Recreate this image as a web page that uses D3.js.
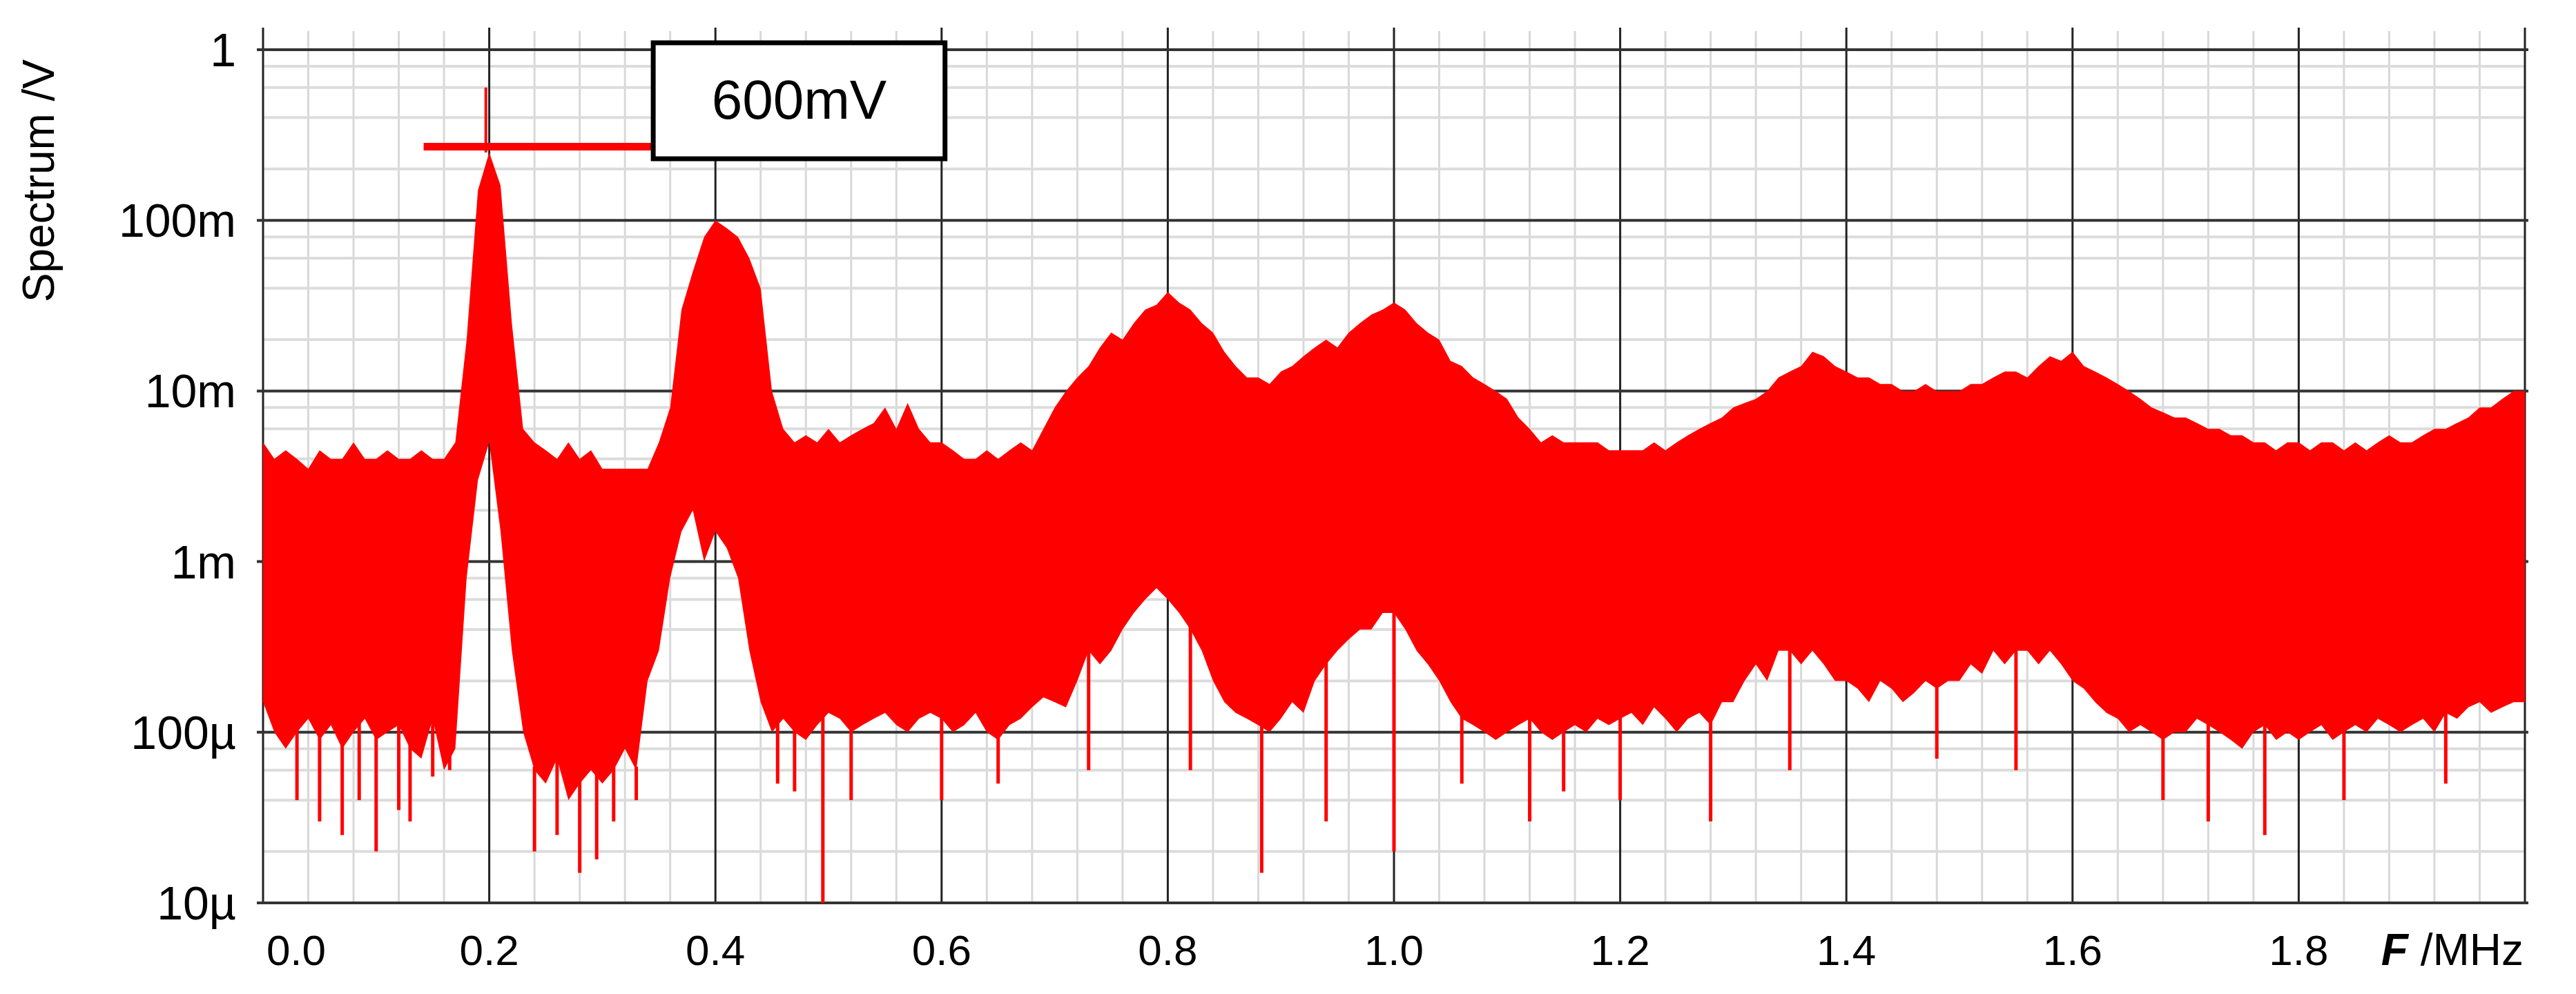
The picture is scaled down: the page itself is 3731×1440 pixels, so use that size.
<!DOCTYPE html>
<html><head><meta charset="utf-8">
<script src="https://cdn.jsdelivr.net/npm/d3@7"></script>
<style>body{margin:0;background:#fff}text{font-family:"Liberation Sans",Arial,sans-serif}</style>
</head><body><svg id="chart" width="3731" height="1440"></svg>
<script>
// upper edge of the noise band, mV, 0.00..2.00 MHz step 0.01
var upperMV = [5,4,4.5,4,3.5,4.5,4,4,5,4,
  4,4.5,4,4,4.5,4,4,5,20,150,
  250,160,25,6,5,4.5,4,5,4,4.5,
  3.5,3.5,3.5,3.5,3.5,5,8,30,50,80,
  100,90,80,60,40,10,6,5,5.5,5,
  6,5,5.5,6,6.5,8,6,8.5,6,5,
  5,4.5,4,4,4.5,4,4.5,5,4.5,6,
  8,10,12,14,18,22,20,25,30,32,
  38,33,30,25,22,17,14,12,12,11,
  13,14,16,18,20,18,22,25,28,30,
  33,30,25,22,20,15,14,12,11,10,
  9,7,6,5,5.5,5,5,5,5,4.5,
  4.5,4.5,4.5,5,4.5,5,5.5,6,6.5,7,
  8,8.5,9,10,12,13,14,17,16,14,
  13,12,12,11,11,10,10,11,10,10,
  10,11,11,12,13,13,12,14,16,15,
  17,14,13,12,11,10,9,8,7.5,7,
  7,6.5,6,6,5.5,5.5,5,5,4.5,5,
  5,4.5,5,5,4.5,5,4.5,5,5.5,5,
  5,5.5,6,6,6.5,7,8,8,9,10,10];
// lower edge of the dense band, µV
var lowerUV = [150,100,80,100,120,90,110,80,100,120,
  90,100,110,80,70,120,60,80,800,3000,
  5000,1500,300,100,60,50,70,40,50,60,
  50,60,80,60,200,300,800,1500,2000,1000,
  1500,1200,800,300,150,100,120,100,90,110,
  130,120,100,110,120,130,110,100,120,130,
  120,100,110,130,100,90,110,120,140,160,
  150,140,200,300,250,300,400,500,600,700,
  600,500,400,300,200,150,130,120,110,100,
  120,150,130,200,250,300,350,400,400,500,
  500,400,300,250,200,150,120,110,100,90,
  100,110,120,100,90,100,110,100,120,110,
  120,130,110,140,120,100,120,130,110,150,
  150,200,250,200,300,300,250,300,250,200,
  200,180,150,200,180,150,170,200,180,200,
  200,250,220,300,250,300,300,250,300,250,
  200,180,150,130,120,100,110,100,90,100,
  100,120,110,100,90,80,100,110,90,100,
  90,100,110,90,100,110,100,120,110,100,
  110,120,100,130,120,140,150,130,140,150,150];
// single deep dips [MHz, µV]
var dips = [[0.03,40],[0.05,30],[0.07,25],[0.085,40],[0.10,20],[0.12,35],[0.13,30],[0.15,55],[0.165,60],
  [0.24,20],[0.26,25],[0.28,15],[0.295,18],[0.31,30],[0.33,40],[0.455,50],[0.47,45],[0.495,10],
  [0.52,40],[0.60,40],[0.65,50],[0.73,60],[0.82,60],[0.883,15],[0.94,30],[1.0,20],[1.06,50],
  [1.12,30],[1.15,45],[1.2,40],[1.28,30],[1.35,60],[1.48,70],[1.55,60],[1.68,40],[1.72,30],
  [1.77,25],[1.84,40],[1.93,50]];
var peakSpike = [0.197, 0.6];
var yTicks = [1, 0.1, 0.01, 0.001, 1e-4, 1e-5];
var yLabels = ["1", "100m", "10m", "1m", "100µ", "10µ"];
var xTicks = [0, 0.2, 0.4, 0.6, 0.8, 1.0, 1.2, 1.4, 1.6, 1.8];

var svg = d3.select("#chart");
var x = d3.scaleLinear().domain([0, 2]).range([381, 3657]);
var y = d3.scaleLog().domain([1e-5, 1]).range([1308, 72]);

// grid
var g = svg.append("g");
var minorX = d3.range(0, 2.001, 0.04).filter(function(f){ return Math.abs(f/0.2 - Math.round(f/0.2)) > 0.01; });
g.selectAll(".vminor").data(minorX).enter().append("line")
  .attr("x1", x).attr("x2", x).attr("y1", 45).attr("y2", 1308)
  .attr("stroke", "#d8d8d8").attr("stroke-width", 3);
var minorY = [];
[1e-5,1e-4,1e-3,1e-2,0.1].forEach(function(d){ [2,4,6,8].forEach(function(m){ minorY.push(d*m); }); });
g.selectAll(".hminor").data(minorY).enter().append("line")
  .attr("x1", 381).attr("x2", 3657).attr("y1", y).attr("y2", y)
  .attr("stroke", "#dcdcdc").attr("stroke-width", 4);
g.selectAll(".vmajor").data(xTicks.concat([2])).enter().append("line")
  .attr("x1", x).attr("x2", x).attr("y1", 40).attr("y2", 1308)
  .attr("stroke", "#222").attr("stroke-width", 3);
g.selectAll(".hmajor").data(yTicks).enter().append("line")
  .attr("x1", 372).attr("x2", 3662).attr("y1", y).attr("y2", y)
  .attr("stroke", "#333").attr("stroke-width", 4);

// spectrum band
var freqs = d3.range(upperMV.length).map(function(i){ return i * 0.01; });
var band = d3.area()
  .x(function(i){ return x(freqs[i]); })
  .y0(function(i){ return y(lowerUV[i] * 1e-6); })
  .y1(function(i){ return y(upperMV[i] * 1e-3); });
svg.append("path").datum(d3.range(freqs.length)).attr("d", band).attr("fill", "#ff0000");
svg.selectAll(".dip").data(dips).enter().append("line")
  .attr("x1", function(d){ return x(d[0]); }).attr("x2", function(d){ return x(d[0]); })
  .attr("y1", function(d){ return y(d[1] * 1e-6); })
  .attr("y2", function(d){ var i = Math.round(d[0] / 0.01); return y(lowerUV[i] * 1e-6) - 5; })
  .attr("stroke", "#ff0000").attr("stroke-width", 5);
svg.append("line").attr("x1", x(peakSpike[0])).attr("x2", x(peakSpike[0]))
  .attr("y1", y(peakSpike[1])).attr("y2", y(0.25)).attr("stroke", "#ff0000").attr("stroke-width", 4);

// marker annotation
svg.append("line").attr("x1", x(0.142)).attr("x2", x(0.345)).attr("y1", y(0.27)).attr("y2", y(0.27))
  .attr("stroke", "#ff0000").attr("stroke-width", 11);
svg.append("rect").attr("x", x(0.345)).attr("y", 62).attr("width", x(0.603) - x(0.345)).attr("height", 168)
  .attr("fill", "#fff").attr("stroke", "#000").attr("stroke-width", 7);
svg.append("text").attr("x", (x(0.345) + x(0.603)) / 2).attr("y", 172).attr("text-anchor", "middle")
  .attr("font-size", 80).text("600mV");

// axis labels
svg.selectAll(".yl").data(yTicks).enter().append("text")
  .attr("x", 342).attr("y", function(d){ return y(d) + 24; }).attr("text-anchor", "end")
  .attr("font-size", 68).text(function(d, i){ return yLabels[i]; });
svg.selectAll(".xl").data(xTicks).enter().append("text")
  .attr("x", function(d){ return d === 0 ? x(d) + 48 : x(d); }).attr("y", 1398).attr("text-anchor", "middle")
  .attr("font-size", 62).text(function(d){ return d.toFixed(1); });
svg.append("text").attr("transform", "translate(78,262) rotate(-90)").attr("text-anchor", "middle")
  .attr("font-size", 64).text("Spectrum /V");
var xt = svg.append("text").attr("x", 3655).attr("y", 1398).attr("text-anchor", "end").attr("font-size", 64);
xt.append("tspan").attr("font-weight", "bold").attr("font-style", "italic").text("F");
xt.append("tspan").text(" /MHz");
</script></body></html>
